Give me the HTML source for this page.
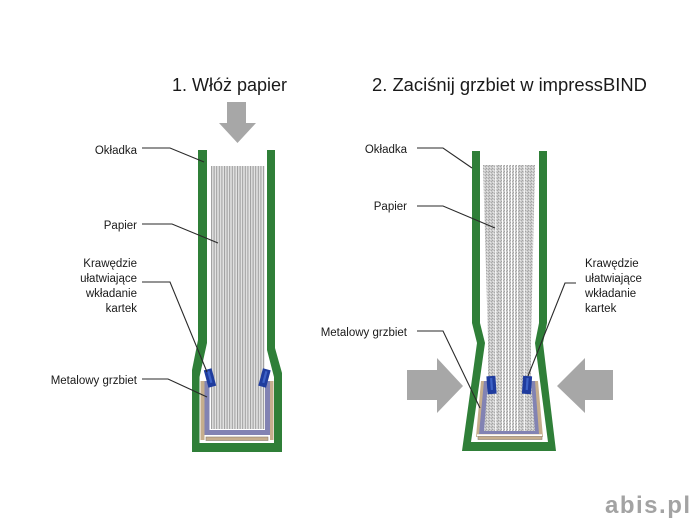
<!DOCTYPE html>
<html><head><meta charset="utf-8"><style>
html,body{margin:0;padding:0;background:#fff;}
svg{display:block;}
text{font-family:"Liberation Sans",Arial,sans-serif;}
</style></head><body>
<svg width="700" height="525" viewBox="0 0 700 525" xmlns="http://www.w3.org/2000/svg">
<defs>
<pattern id="pl" x="211" y="0" width="2.6" height="10" patternUnits="userSpaceOnUse">
 <rect width="2.6" height="10" fill="#e2e2e2"/>
 <rect width="1" height="10" fill="#9c9c9c"/>
</pattern>
<pattern id="pr" width="3" height="3" patternUnits="userSpaceOnUse">
 <rect width="3" height="3" fill="#cbcbcb"/>
 <rect x="0" y="0" width="1" height="1" fill="#a2a2a2"/>
 <rect x="2" y="1" width="1" height="1" fill="#aaaaaa"/>
 <rect x="1" y="2" width="1" height="1" fill="#e6e6e6"/>
</pattern>
</defs>
<rect width="700" height="525" fill="#fff"/>

<!-- titles -->
<text x="172" y="91" font-size="18" fill="#1a1a1a">1. Włóż papier</text>
<text x="372" y="91" font-size="18.4" fill="#1a1a1a">2. Zaciśnij grzbiet w impressBIND</text>

<!-- top arrow -->
<polygon points="227,102 246,102 246,123 256,123 237.5,143 219,123 227,123" fill="#a7a7a7"/>

<!-- ===== LEFT DIAGRAM ===== -->
<rect x="211" y="166" width="53.5" height="263" fill="url(#pl)"/>
<polygon fill="#2f7f38" points="198,150 198,340 192,370 192,452 282,452 282,373 275,348 275,150 267,150 267,350 274,377 274,443 199.5,443 199.5,377 207,343 207,150"/>
<!-- tan -->
<rect x="200.5" y="381" width="4" height="59" fill="#c6ae8d"/>
<rect x="270" y="381" width="3.5" height="59" fill="#c6ae8d"/>
<!-- purple U -->
<rect x="204.5" y="381" width="5" height="54" fill="#8283b3"/>
<rect x="265" y="381" width="5" height="54" fill="#8283b3"/>
<rect x="204.5" y="430" width="65.5" height="5" fill="#8283b3"/>
<rect x="206" y="437" width="62" height="3.5" fill="#c6ae8d" stroke="#8c7d70" stroke-width="0.6"/>
<!-- clips -->
<g transform="translate(210,378) rotate(-15)"><rect x="-4" y="-9" width="8" height="18" fill="#1f3c9e"/><rect x="-1" y="-7" width="2.2" height="12" fill="#3d62c6"/></g>
<g transform="translate(264.5,378) rotate(15)"><rect x="-4" y="-9" width="8" height="18" fill="#1f3c9e"/><rect x="-1" y="-7" width="2.2" height="12" fill="#3d62c6"/></g>

<!-- left labels -->
<g font-size="11.5" fill="#1a1a1a" text-anchor="end">
<text x="137" y="154">Okładka</text>
<text x="137" y="229">Papier</text>
<text x="137" y="267">Krawędzie</text>
<text x="137" y="282">ułatwiające</text>
<text x="137" y="297">wkładanie</text>
<text x="137" y="312">kartek</text>
<text x="137" y="384">Metalowy grzbiet</text>
</g>
<g fill="none" stroke="#2a2a2a" stroke-width="1.1">
<polyline points="142,148 170,148 204,162"/>
<polyline points="142,224 172,224 218,243"/>
<polyline points="142,282 170,282 207,372"/>
<polyline points="142,379 168,379 207,397"/>
</g>

<!-- ===== RIGHT DIAGRAM ===== -->
<polygon points="481,381 538,381 543,437 476,437" fill="#c6ae8d"/>
<polygon points="484,381 535,381 539,434 479,434" fill="#8283b3"/>
<rect x="477" y="434.3" width="65" height="2" fill="#fff"/>
<rect x="478" y="436.5" width="64" height="3" fill="#c6ae8d" stroke="#8c7d70" stroke-width="0.6"/>
<!-- paper -->
<polygon points="483,165 535,165 531,340 531,381 535,431 484,431 488,381 488,340" fill="url(#pr)"/>
<g fill="#ffffff">
<rect x="502" y="165" width="1" height="266"/>
<rect x="505" y="165" width="1" height="266"/>
<rect x="508" y="165" width="1" height="266"/>
<rect x="511" y="165" width="1" height="266"/>
<rect x="514" y="165" width="1" height="266"/>
<rect x="517" y="165" width="1" height="266"/>
<rect x="495" y="165" width="0.8" height="266"/>
<rect x="524" y="165" width="0.8" height="266"/>
</g>
<polygon fill="#2f7f38" points="472,151 472,323 477,343 462,451 556,451 543,343 547,323 547,151 539,151 539,323 535,343 548,442 471,442 485,343 480,323 480,151"/>
<!-- clips -->
<g transform="translate(491.5,385) rotate(-4)"><rect x="-4.5" y="-9" width="9" height="18" fill="#1f3c9e"/><rect x="-1" y="-7" width="2.2" height="12" fill="#3d62c6"/></g>
<g transform="translate(527,385) rotate(4)"><rect x="-4.5" y="-9" width="9" height="18" fill="#1f3c9e"/><rect x="-1" y="-7" width="2.2" height="12" fill="#3d62c6"/></g>

<!-- side arrows -->
<polygon points="407,370 437,370 437,358 463,386 437,413 437,400 407,400" fill="#a7a7a7"/>
<polygon points="613,370 585,370 585,358 557,386 585,413 585,400 613,400" fill="#a7a7a7"/>

<!-- right labels -->
<g font-size="11.5" fill="#1a1a1a" text-anchor="end">
<text x="407" y="153">Okładka</text>
<text x="407" y="210">Papier</text>
<text x="407" y="336">Metalowy grzbiet</text>
</g>
<g font-size="11.5" fill="#1a1a1a">
<text x="585" y="267">Krawędzie</text>
<text x="585" y="282">ułatwiające</text>
<text x="585" y="297">wkładanie</text>
<text x="585" y="312">kartek</text>
</g>
<g fill="none" stroke="#2a2a2a" stroke-width="1.1">
<polyline points="417,148 443,148 472,168"/>
<polyline points="417,206 443,206 495,228"/>
<polyline points="417,331 443,331 480,408"/>
<polyline points="576,283 565,283 528,376"/>
</g>

<!-- logo -->
<text x="605" y="513" font-size="24" font-weight="bold" letter-spacing="1.5" fill="#a3a3a3">abis.pl</text>
</svg>
</body></html>
